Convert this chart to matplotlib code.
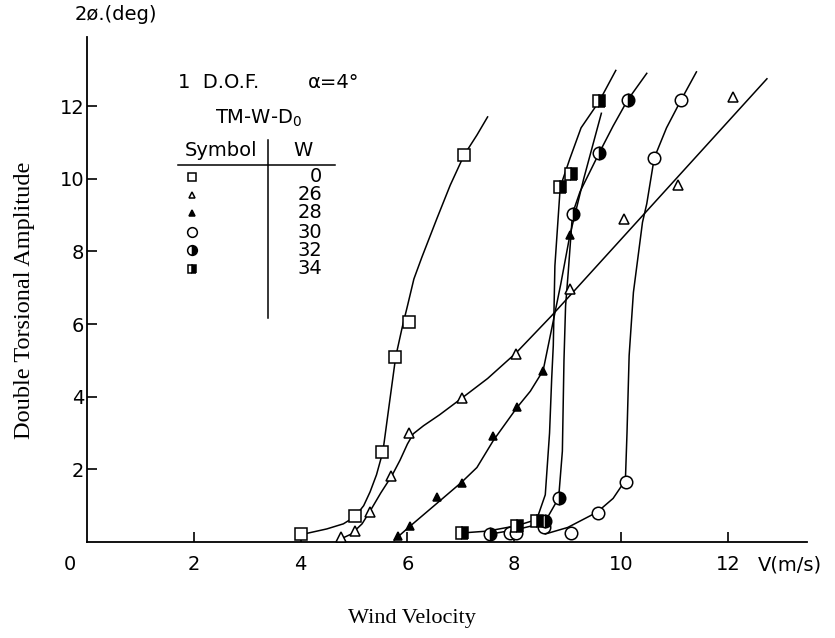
# torsional flutter test: double amplitude vs wind velocity (1 D.O.F.)
import matplotlib
matplotlib.use("Agg")
import matplotlib.pyplot as plt

# W = 0 : open squares
w0_x = [4.0, 5.02, 5.52, 5.77, 6.03, 7.06]
w0_y = [0.22, 0.72, 2.49, 5.1, 6.06, 10.65]
# W = 26 : open triangles
w26_x = [4.76, 5.02, 5.29, 5.69, 6.02, 7.03, 8.03, 9.04, 10.06, 11.07, 12.1]
w26_y = [0.15, 0.3, 0.83, 1.83, 3.0, 3.96, 5.18, 6.97, 8.88, 9.83, 12.25]
# W = 28 : filled triangles
w28_x = [5.83, 6.05, 6.55, 7.03, 7.61, 8.05, 8.54, 9.04]
w28_y = [0.17, 0.45, 1.23, 1.62, 2.93, 3.71, 4.72, 8.44]
# W = 30 : open circles
w30_x = [7.92, 8.04, 8.55, 9.06, 9.56, 10.09, 10.62, 11.12]
w30_y = [0.25, 0.25, 0.4, 0.25, 0.8, 1.66, 10.57, 12.16]
# W = 32 : half filled circles
w32_x = [7.55, 8.58, 8.83, 9.09, 9.59, 10.12]
w32_y = [0.22, 0.59, 1.21, 9.04, 10.71, 12.16]
# W = 34 : half filled squares
w34_x = [7.03, 8.05, 8.42, 8.86, 9.06, 9.59]
w34_y = [0.25, 0.45, 0.59, 9.77, 10.14, 12.13]

# ---- hand drawn fair curves ----
w0_cx = [4.0, 4.49, 4.8, 5.02, 5.18, 5.3, 5.42, 5.54, 5.66, 5.78, 5.9, 6.0, 6.12, 6.27, 6.55, 6.8, 7.06, 7.3, 7.5]
w0_cy = [0.2, 0.36, 0.5, 0.7, 1.0, 1.38, 1.85, 2.49, 3.8, 5.1, 5.9, 6.5, 7.24, 7.84, 8.9, 9.82, 10.65, 11.2, 11.7]
w26_cx = [4.7, 4.95, 5.15, 5.32, 5.5, 5.71, 5.86, 6.0, 6.11, 6.3, 6.6, 7.0, 7.5, 8.03, 8.7, 12.73]
w26_cy = [0.05, 0.22, 0.5, 0.9, 1.35, 1.83, 2.25, 2.7, 2.98, 3.2, 3.5, 3.94, 4.5, 5.2, 6.23, 12.75]
w28_cx = [5.75, 6.02, 6.5, 7.01, 7.3, 7.61, 8.05, 8.3, 8.54, 8.7, 8.87, 9.04, 9.3, 9.63]
w28_cy = [0.05, 0.4, 1.0, 1.64, 2.05, 2.8, 3.7, 4.15, 4.72, 5.87, 7.1, 8.44, 10.0, 11.8]
w30_cx = [8.58, 9.0, 9.55, 9.85, 10.08, 10.11, 10.15, 10.23, 10.4, 10.48, 10.62, 10.85, 11.12, 11.41]
w30_cy = [0.22, 0.4, 0.82, 1.2, 1.7, 3.0, 5.13, 6.87, 8.8, 9.31, 10.57, 11.4, 12.16, 12.94]
w32_cx = [7.55, 8.0, 8.35, 8.6, 8.83, 8.9, 8.93, 8.96, 9.01, 9.09, 9.23, 9.59, 9.85, 10.12, 10.48]
w32_cy = [0.22, 0.33, 0.45, 0.62, 1.21, 2.5, 5.0, 6.5, 7.43, 9.04, 9.64, 10.71, 11.45, 12.16, 12.9]
w34_cx = [7.03, 7.5, 8.05, 8.42, 8.58, 8.66, 8.7, 8.73, 8.76, 8.86, 9.04, 9.25, 9.59, 9.9]
w34_cy = [0.25, 0.3, 0.45, 0.62, 1.3, 3.0, 4.5, 5.41, 7.6, 9.77, 10.55, 11.4, 12.13, 12.98]

x_ticks = [2, 4, 6, 8, 10, 12]
y_ticks = [2, 4, 6, 8, 10, 12]
legend_w = ["0", "26", "28", "30", "32", "34"]

plt.rcParams["font.family"] = ["DejaVu Sans"]
fs = 14

fig = plt.figure(figsize=(8.35, 6.38), dpi=100)
ax = fig.add_axes([87 / 835, 96 / 638, 720 / 835, 505 / 638])

lw = 1.1
for cx, cy in [(w0_cx, w0_cy), (w26_cx, w26_cy), (w28_cx, w28_cy),
               (w30_cx, w30_cy), (w32_cx, w32_cy), (w34_cx, w34_cy)]:
    ax.plot(cx, cy, color="black", lw=lw, zorder=2)

# markers
mk = dict(ls="none", mec="black", mew=1.1, zorder=3)
ax.plot(w0_x, w0_y, marker="s", ms=8, mfc="white", **mk)
ax.plot(w26_x, w26_y, marker="^", ms=7, mfc="white", **mk)
ax.plot(w28_x, w28_y, marker="^", ms=6, mfc="black", **mk)
ax.plot(w30_x, w30_y, marker="o", ms=9, mfc="white", **mk)
ax.plot(w32_x, w32_y, marker="o", ms=9, fillstyle="right", mfc="black",
        markerfacecoloralt="white", **mk)
ax.plot(w34_x, w34_y, marker="s", ms=8, fillstyle="right", mfc="black",
        markerfacecoloralt="white", **mk)

ax.set_xlim(0, 13.48)
ax.set_ylim(0, 13.9)
ax.set_xticks(x_ticks)
ax.set_yticks(y_ticks)
ax.tick_params(direction="in", length=7, width=1.2, labelsize=fs)
ax.tick_params(axis="x", pad=9)
ax.tick_params(axis="y", pad=2)
for s in ["top", "right"]:
    ax.spines[s].set_visible(False)
for s in ["left", "bottom"]:
    ax.spines[s].set_linewidth(1.3)

# overlay in pixel coords for the loose text and the symbol table
ov = fig.add_axes([0, 0, 1, 1])
ov.set_xlim(0, 835)
ov.set_ylim(638, 0)
ov.axis("off")

ov.text(70, 565, "0", fontsize=fs, ha="center", va="center")
ov.text(758, 565, "V(m/s)", fontsize=fs, ha="left", va="center")
ov.text(75, 15, "2ø.(deg)", fontsize=fs, ha="left", va="center")

ov.text(25, 300, "Double Torsional Amplitude", rotation=90, fontsize=17.5,
        family="Liberation Serif", ha="center", va="center")
ov.text(412, 618, "Wind Velocity", fontsize=16, family="Liberation Serif",
        ha="center", va="center")

# symbol table
ov.text(178, 83, "1  D.O.F.", fontsize=fs, ha="left", va="center")
ov.text(308, 83, "α=4°", fontsize=fs, ha="left", va="center")
ov.text(215, 118, "TM-W-D$_0$", fontsize=fs, ha="left", va="center")
ov.text(185, 150, "Symbol", fontsize=fs, ha="left", va="center")
ov.text(303, 150, "W", fontsize=fs, ha="center", va="center")
ov.plot([178, 335], [165, 165], color="black", lw=1.1)
ov.plot([268, 268], [140, 318], color="black", lw=1.1)

row_y = [177, 195, 213, 232, 250, 269]
ov.plot([192], [row_y[0]], marker="s", ms=6, mfc="white", **mk)
ov.plot([192], [row_y[1]], marker="^", ms=5, mfc="white", **mk)
ov.plot([192], [row_y[2]], marker="^", ms=5, mfc="black", **mk)
ov.plot([192], [row_y[3]], marker="o", ms=7, mfc="white", **mk)
ov.plot([192], [row_y[4]], marker="o", ms=7, fillstyle="right", mfc="black",
        markerfacecoloralt="white", **mk)
ov.plot([192], [row_y[5]], marker="s", ms=6, fillstyle="right", mfc="black",
        markerfacecoloralt="white", **mk)
for yy, w in zip(row_y, legend_w):
    ov.text(322, yy, w, fontsize=fs, ha="right", va="center")

fig.savefig("out.png", dpi=100)
